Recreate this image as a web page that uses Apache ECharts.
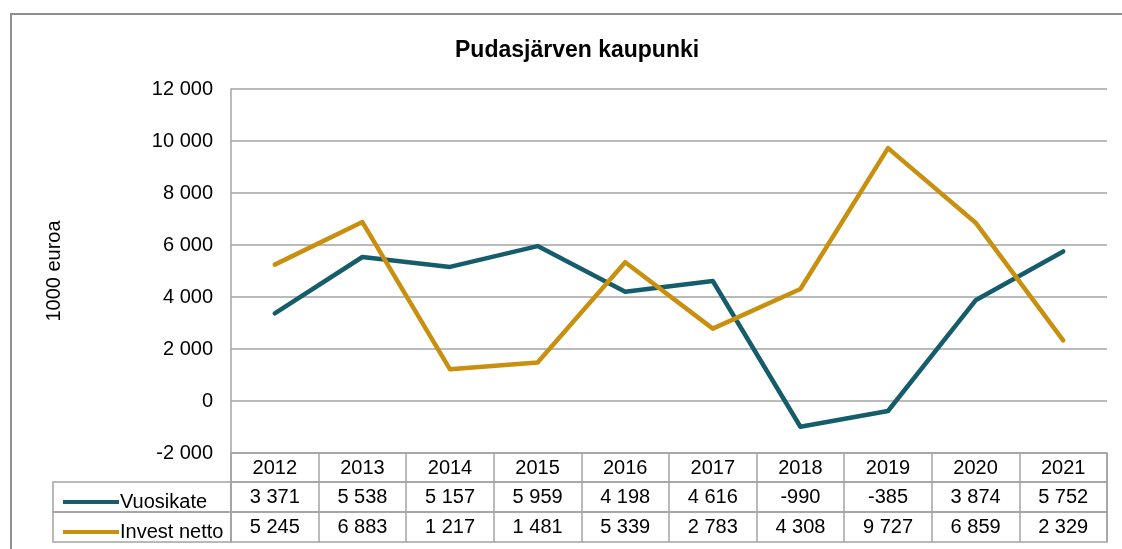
<!DOCTYPE html>
<html>
<head>
<meta charset="utf-8">
<script src="https://cdn.jsdelivr.net/npm/echarts@6/dist/echarts.min.js"></script>
<style>
  html, body { margin: 0; padding: 0; background: #fff; overflow: hidden; }
  #chart { width: 1122px; height: 549px; }
</style>
</head>
<body>
<div id="chart"></div>
<script>
const years = ["2012", "2013", "2014", "2015", "2016", "2017", "2018", "2019", "2020", "2021"];
const vuosikate = [3371, 5538, 5157, 5959, 4198, 4616, -990, -385, 3874, 5752];
const investNetto = [5245, 6883, 1217, 1481, 5339, 2783, 4308, 9727, 6859, 2329];
const seriesNames = ["Vuosikate", "Invest netto"];
const colors = ["#155d6b", "#c9900f"];

const fmt = (v) => String(v).replace(/\B(?=(\d{3})+(?!\d))/g, " ");

const font = "Liberation Sans, Arial, sans-serif";
const gridColor = "#a3a3a3";

const chart = echarts.init(document.getElementById("chart"));

// table rows sit in their own grids under the plot
const rowGrid = (top, height) => ({
  left: 231, right: 15, top: top, height: height,
  show: true, borderColor: gridColor, borderWidth: 1.5, backgroundColor: "transparent",
});
const cellGrid = (top) => ({
  left: 53, width: 178, top: top, height: 30,
  show: true, borderColor: gridColor, borderWidth: 1.5, backgroundColor: "transparent",
});

const rowAxis = (gridIndex, values) => ({
  type: "category",
  gridIndex: gridIndex,
  data: years,
  position: "bottom",
  axisLine: { show: false },
  axisTick: { show: false },
  splitLine: { show: true, lineStyle: { color: gridColor, width: 1.5 } },
  axisLabel: {
    interval: 0,
    margin: gridIndex === 1 ? -14 : -15,
    verticalAlign: "middle",
    fontSize: 20,
    fontFamily: font,
    color: "#000",
    formatter: (v, i) => (values ? fmt(values[i]) : v),
  },
});
const hiddenY = (gridIndex) => ({ type: "value", gridIndex: gridIndex, show: false });
const hiddenX = (gridIndex) => ({ type: "category", gridIndex: gridIndex, show: false, data: [""] });

const option = {
  animation: false,
  color: colors,
  title: {
    text: "Pudasjärven kaupunki",
    left: 450,
    top: 34,
    textStyle: { fontSize: 23, fontWeight: "bold", fontFamily: font, color: "#000" },
  },
  legend: {
    orient: "vertical",
    left: 58,
    top: 487,
    itemWidth: 56,
    itemHeight: 4,
    itemGap: 10,
    icon: "rect",
    selectedMode: false,
    data: seriesNames,
    textStyle: { fontSize: 20, lineHeight: 20, fontFamily: font, color: "#000", padding: [0, 0, 0, -4] },
  },
  graphic: [
    {
      type: "rect",
      shape: { x: 11, y: 14, width: 1200, height: 600 },
      style: { fill: "none", stroke: "#8f8f8f", lineWidth: 2 },
      silent: true,
    },
  ],
  grid: [
    { left: 231, right: 15, top: 89, height: 364 },
    rowGrid(453, 29),
    rowGrid(482, 30),
    rowGrid(512, 30),
    cellGrid(482),
    cellGrid(512),
  ],
  xAxis: [
    {
      type: "category",
      gridIndex: 0,
      data: years,
      boundaryGap: true,
      axisLine: { show: false },
      axisTick: { show: false },
      axisLabel: { show: false },
    },
    rowAxis(1, null),
    rowAxis(2, vuosikate),
    rowAxis(3, investNetto),
    hiddenX(4),
    hiddenX(5),
  ],
  yAxis: [
    {
      type: "value",
      gridIndex: 0,
      min: -2000,
      max: 12000,
      interval: 2000,
      name: "1000 euroa",
      nameLocation: "middle",
      nameGap: 167,
      nameTextStyle: { fontSize: 20, fontFamily: font, color: "#000" },
      axisLine: { show: true, lineStyle: { color: gridColor, width: 1.5 } },
      axisTick: { show: false },
      splitLine: { show: true, lineStyle: { color: gridColor, width: 1.5 } },
      axisLabel: { fontSize: 20, fontFamily: font, color: "#000", margin: 18, formatter: fmt },
    },
    hiddenY(1),
    hiddenY(2),
    hiddenY(3),
    hiddenY(4),
    hiddenY(5),
  ],
  series: [
    {
      name: seriesNames[0],
      type: "line",
      data: vuosikate,
      symbol: "none",
      lineStyle: { width: 4.5, color: colors[0], join: "round", cap: "round" },
    },
    {
      name: seriesNames[1],
      type: "line",
      data: investNetto,
      symbol: "none",
      lineStyle: { width: 4.5, color: colors[1], join: "round", cap: "round" },
    },
  ],
};

chart.setOption(option);
</script>
</body>
</html>
